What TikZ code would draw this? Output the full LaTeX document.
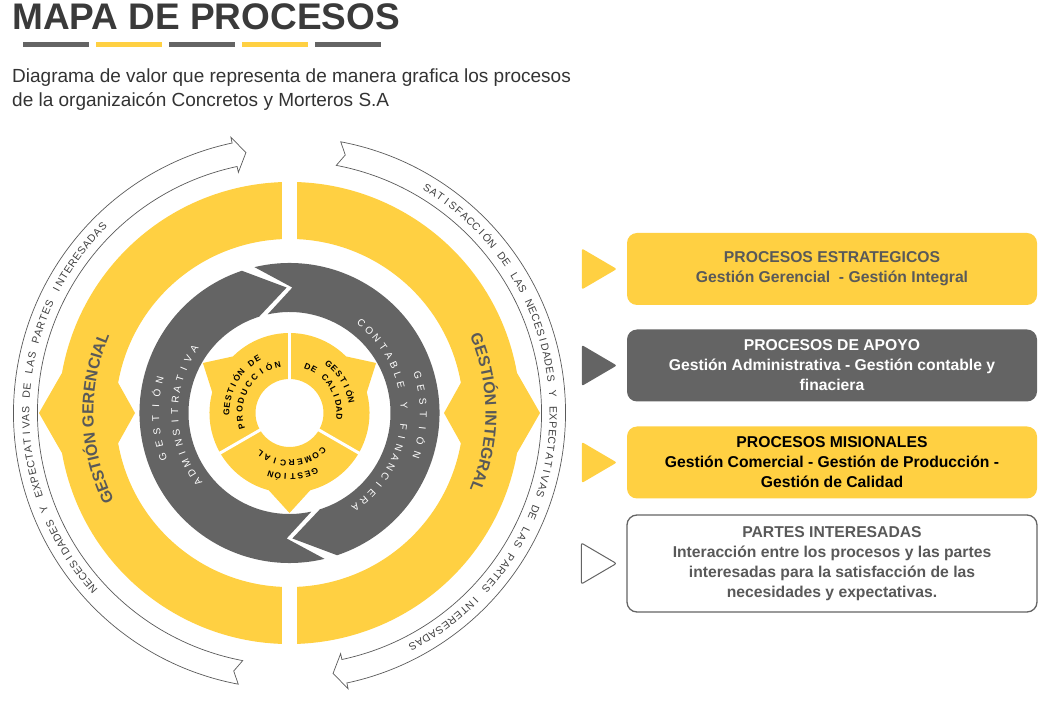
\documentclass[tikz,border=0pt]{standalone}
\usepackage{fontspec}
\setmainfont{Liberation Sans}
\usetikzlibrary{decorations.text}
\definecolor{mapyellow}{HTML}{FFD042}
\definecolor{mapgray}{HTML}{646464}
\definecolor{inkgray}{HTML}{595959}
\definecolor{titlegray}{HTML}{3A3A3A}
\definecolor{linegray}{HTML}{5A5A5A}
\definecolor{arcgray}{HTML}{404040}
\newcommand{\arcword}[5]{\foreach \ch [count=\k from 0] in {#5} \node[#4,rotate={#2-\k*#3-90}] at ({#2-\k*#3}:#1) {\ch};}
\begin{document}
\begin{tikzpicture}[x=1pt,y=1pt,
  arcletter/.style={anchor=base,inner sep=0pt,text=arcgray,font=\fontsize{10.5}{10.5}\selectfont},
  ringletter/.style={anchor=base,inner sep=0pt,text=white,font=\fontsize{10}{10}\selectfont},
  coreletter/.style={anchor=base,inner sep=0pt,text=black,font=\bfseries\fontsize{8.5}{8.5}\selectfont},
  procbox/.style={rounded corners=10pt,minimum width=410pt,minimum height=72pt,align=center,font=\bfseries\fontsize{15.7}{20}\selectfont},
  pointer/.style={rounded corners=2pt}]
\useasboundingbox (0,0) rectangle (1047,718);
\node[anchor=base west,inner sep=0pt,text=titlegray,font=\bfseries\fontsize{37}{37}\selectfont] (titulo) at (12,688) {MAPA DE PROCESOS};
\foreach \i/\c in {0/mapgray,1/mapyellow,2/mapgray,3/mapyellow,4/mapgray}
  \fill[\c] (23+73*\i,671) rectangle ++(66,5);
\node[anchor=base west,inner sep=0pt,text=black!80,font=\fontsize{19}{24}\selectfont] (subtitulo) at (12,635) {Diagrama de valor que representa de manera grafica los procesos};
\node[anchor=base west,inner sep=0pt,text=black!80,font=\fontsize{19}{24}\selectfont] (subtitulo2) at (12,611) {de la organizaicón Concretos y Morteros S.A};
\begin{scope}[shift={(289.5,305)}]
\foreach \r in {0,180}
  \filldraw[fill=white,draw=linegray,line width=0.7pt,rotate=\r] (259.3:276) arc[start angle=259.3,end angle=102,radius=276] -- (102:282) -- (99.5:264) -- (102:246) -- (102:252) arc[start angle=102,end angle=259.3,radius=252] -- (257.8:264) -- cycle;
\fill[mapyellow,even odd rule] (10:231) arc[start angle=10,end angle=170,radius=231] -- (180:250.5) -- (190:231) arc[start angle=190,end angle=350,radius=231] -- (0:250.5) -- cycle
  (10:174) arc[start angle=10,end angle=170,radius=174] -- (180:154.5) -- (190:174) arc[start angle=190,end angle=350,radius=174] -- (0:154.5) -- cycle;
\fill[white] (-7.5,160) rectangle (7.5,240);
\fill[white] (-7.5,-240) rectangle (7.5,-160);
\foreach \r in {0,180}
  \fill[mapgray,rotate=\r] (108.5:150) arc[start angle=108.5,end angle=283.5,radius=150] -- (268.7:125.5) -- (282.5:101) arc[start angle=282.5,end angle=107.5,radius=101] -- (91.3:125.5) -- cycle;
\fill[mapyellow,even odd rule] (105:80) arc[start angle=105,end angle=135,radius=80] -- (150:100) -- (165:80) arc[start angle=165,end angle=255,radius=80] -- (270:100) -- (285:80) arc[start angle=285,end angle=375,radius=80] -- (30:100) -- (45:80) arc[start angle=45,end angle=105,radius=80] -- cycle (0,0) circle[radius=34];
\foreach \a in {90,210,330}
  \draw[white,line width=3pt] (0,0) -- (\a:90);
\path[decorate,decoration={text along path,text align=center,text={|\bfseries\fontsize{16}{16}\selectfont\color{inkgray}|GESTIÓN GERENCIAL}}] (230:196) arc[start angle=230,end angle=133.2,radius=196];
\path[decorate,decoration={text along path,text align=center,text={|\bfseries\fontsize{16}{16}\selectfont\color{inkgray}|GESTIÓN INTEGRAL}}] (48:196) arc[start angle=48,end angle=-48,radius=196];
\arcword{260.2}{221.85}{1.7}{arcletter}{N,E,C,E,S,I,D,A,D,E,S, ,Y, ,E,X,P,E,C,T,A,T,I,V,A,S, ,D,E, ,L,A,S, ,P,A,R,T,E,S, ,I,N,T,E,R,E,S,A,D,A,S}
\arcword{260.2}{58.55}{1.7}{arcletter}{S,A,T,I,S,F,A,C,C,I,Ó,N, ,D,E, ,L,A,S, ,N,E,C,E,S,I,D,A,D,E,S, ,Y, ,E,X,P,E,C,T,A,T,I,V,A,S, ,D,E, ,L,A,S, ,P,A,R,T,E,S, ,I,N,T,E,R,E,S,A,D,A,S}
\arcword{130.4}{199}{5.5}{ringletter}{G,E,S,T,I,Ó,N}
\arcword{111.4}{217.1}{5.45}{ringletter}{A,D,M,I,N,S,I,T,R,A,T,I,V,A}
\arcword{130.4}{16.6}{5.78}{ringletter}{G,E,S,T,I,Ó,N}
\arcword{111.4}{51.2}{5.3}{ringletter}{C,O,N,T,A,B,L,E, ,Y, ,F,I,N,A,N,C,I,E,R,A}
\arcword{60}{179.25}{6.5}{coreletter}{G,E,S,T,I,Ó,N, ,D,E}
\arcword{47}{196.35}{10.3}{coreletter}{P,R,O,D,U,C,C,I,Ó,N}
\arcword{60}{51.3}{6.6}{coreletter}{G,E,S,T,I,Ó,N}
\arcword{47}{68.75}{8.1}{coreletter}{D,E, ,C,A,L,I,D,A,D}
\arcword{61}{-66.75}{6.75}{coreletter}{G,E,S,T,I,Ó,N}
\arcword{47}{-48.7}{9.7}{coreletter}{C,O,M,E,R,C,I,A,L}
\end{scope}
\node[procbox,fill=mapyellow,text=inkgray] (estrategicos) at (832,449) {PROCESOS ESTRATEGICOS\\Gestión Gerencial~ - Gestión Integral};
\node[procbox,fill=mapgray,text=white] (apoyo) at (832,352.5) {PROCESOS DE APOYO\\Gestión Administrativa - Gestión contable y\\finaciera};
\node[procbox,fill=mapyellow,text=black] (misionales) at (832,255.5) {PROCESOS MISIONALES\\Gestión Comercial - Gestión de Producción -\\Gestión de Calidad};
\node[procbox,minimum height=97pt,draw=mapgray,line width=1.3pt,fill=white,text=inkgray] (partes) at (832,154.5) {PARTES INTERESADAS\\Interacción entre los procesos y las partes\\interesadas para la satisfacción de las\\necesidades y expectativas.};
\fill[mapyellow,pointer] (estrategicos.west) ++(-45,20.5) -- ++(35,-20.5) -- ++(-35,-20.5) -- cycle;
\fill[mapgray,pointer] (apoyo.west) ++(-45,20.5) -- ++(35,-20.5) -- ++(-35,-20.5) -- cycle;
\fill[mapyellow,pointer] (misionales.west) ++(-45,20.5) -- ++(35,-20.5) -- ++(-35,-20.5) -- cycle;
\filldraw[fill=white,draw=mapgray,line width=1pt,pointer] (partes.west) ++(-45,20.5) -- ++(35,-20.5) -- ++(-35,-20.5) -- cycle;
\end{tikzpicture}
\end{document}
